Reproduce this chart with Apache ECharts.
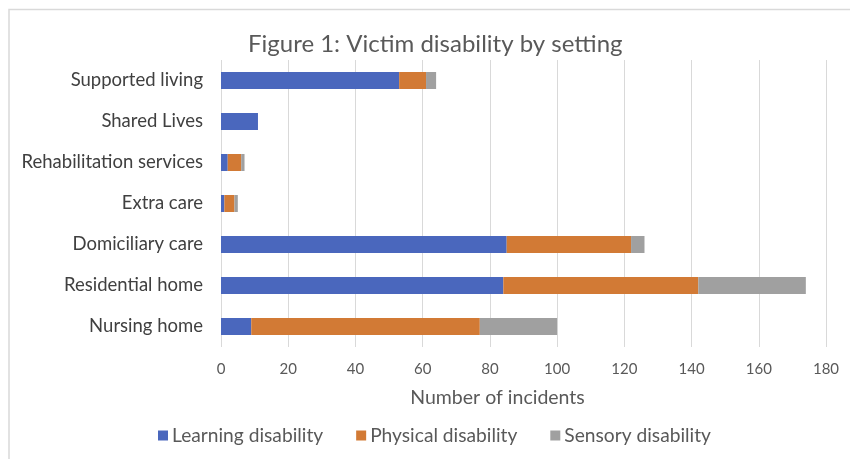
<!DOCTYPE html>
<html>
<head>
<meta charset="utf-8">
<script src="https://cdn.jsdelivr.net/npm/echarts@6/dist/echarts.min.js"></script>
<style>
html,body{margin:0;padding:0;background:#fff;}
#chart{width:850px;height:459px;}
</style>
</head>
<body>
<div id="chart"></div>
<script>
const categories = ["Supported living", "Shared Lives", "Rehabilitation services", "Extra care", "Domiciliary care", "Residential home", "Nursing home"];
const learning = [53, 11, 2, 1, 85, 84, 9];
const physical = [8, 0, 4, 3, 37, 58, 68];
const sensory = [3, 0, 1, 1, 4, 32, 23];
const xTicks = [0, 20, 40, 60, 80, 100, 120, 140, 160, 180];

const FONT = "Lato, 'Open Sans', sans-serif";
const chart = echarts.init(document.getElementById('chart'), null, {renderer: 'canvas'});
const mk = (name, data, color) => ({
  name, type: 'bar', stack: 'total', data,
  barWidth: 17,
  itemStyle: {color},
  emphasis: {disabled: true}
});
chart.setOption({
  animation: false,
  graphic: [{
    type: 'rect', silent: true,
    shape: {x: 9, y: 9.5, width: 860, height: 470},
    style: {fill: 'none', stroke: '#d9d9d9', lineWidth: 1.5}
  }],
  title: {
    text: 'Figure 1: Victim disability by setting',
    left: 243, top: 27,
    textStyle: {fontFamily: FONT, fontSize: 24, fontWeight: 'normal', color: '#595959'}
  },
  legend: {
    top: 421, left: 153,
    itemWidth: 10, itemHeight: 10, itemGap: 33,
    icon: 'rect',
    textStyle: {fontFamily: FONT, fontSize: 19.2, color: '#595959', padding: [0, 0, 0, -1]},
    data: ['Learning disability', 'Physical disability', 'Sensory disability']
  },
  grid: {left: 221, right: 24, top: 60, bottom: 112, containLabel: false},
  xAxis: {
    type: 'value', min: xTicks[0], max: xTicks[xTicks.length - 1], interval: 20,
    name: 'Number of incidents', nameLocation: 'middle', nameGap: 41,
    nameTextStyle: {fontFamily: FONT, fontSize: 19.5, color: '#595959', padding: [0, 52, 0, 0]},
    axisLine: {show: false}, axisTick: {show: false},
    axisLabel: {fontFamily: FONT, fontSize: 15, color: '#595959', margin: 15},
    splitLine: {show: true, lineStyle: {color: '#d9d9d9', width: 1}}
  },
  yAxis: {
    type: 'category', data: categories, inverse: true,
    axisLine: {show: false}, axisTick: {show: false},
    axisLabel: {fontFamily: FONT, fontSize: 18.5, color: '#404040', margin: 18, padding: [3, 0, 0, 0]}
  },
  series: [
    mk('Learning disability', learning, '#4a67bd'),
    mk('Physical disability', physical, '#d27a35'),
    mk('Sensory disability', sensory, '#a0a0a0')
  ]
});
</script>
</body>
</html>
